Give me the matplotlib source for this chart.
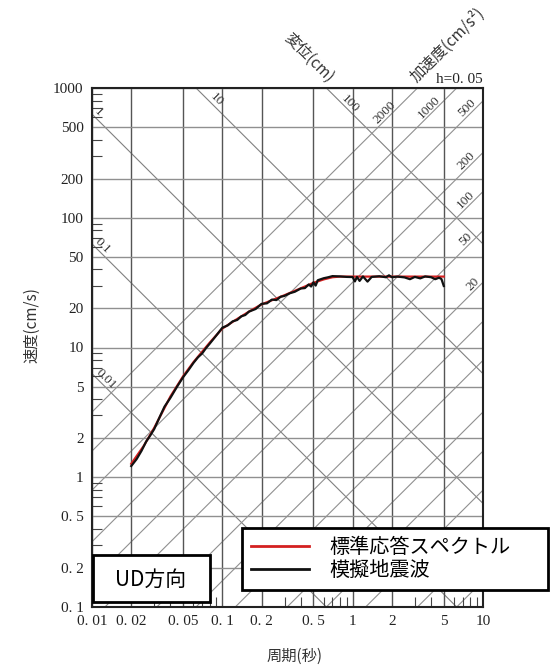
import numpy as np
import matplotlib.pyplot as plt
from matplotlib.lines import Line2D
from matplotlib.patches import Rectangle
from matplotlib.ticker import FixedLocator, NullFormatter

plt.rcParams['font.family'] = ['Noto Sans CJK JP', 'DejaVu Sans']

# 標準応答スペクトル (周期 s, 速度 cm/s)
period_std = [0.02, 0.025, 0.03, 0.04, 0.05, 0.06, 0.08, 0.1, 0.13, 0.16, 0.2, 0.25,
              0.3, 0.4, 0.5, 0.6, 0.7, 0.8, 1.0, 1.5, 2.0, 3.0, 4.0, 5.0]
sv_std = [1.27, 1.75, 2.4, 4.2, 6.0, 7.7, 10.9, 14.0, 16.6, 18.9, 21.5, 23.5,
          25.3, 28.6, 31.5, 33.5, 34.8, 35.2, 35.2, 35.2, 35.2, 35.2, 35.2, 35.2]

# 模擬地震波
period_sim = [0.02, 0.022, 0.024, 0.026, 0.028, 0.03, 0.033, 0.036, 0.04, 0.045,
              0.05, 0.055, 0.06, 0.065, 0.07, 0.075, 0.08, 0.09, 0.1, 0.11,
              0.12, 0.13, 0.14, 0.15, 0.16, 0.18, 0.2, 0.22, 0.24, 0.26,
              0.28, 0.3, 0.33, 0.36, 0.4, 0.43, 0.46, 0.48, 0.5, 0.52,
              0.54, 0.6, 0.65, 0.7, 0.8, 0.9, 1.0, 1.04, 1.08, 1.13,
              1.2, 1.3, 1.4, 1.6, 1.8, 1.9, 2.0, 2.2, 2.5, 2.75,
              3.0, 3.3, 3.6, 4.0, 4.3, 4.6, 4.8, 5.0]
sv_sim = [1.22, 1.38, 1.6, 1.88, 2.1, 2.35, 2.9, 3.5, 4.1, 5.0,
          5.9, 6.7, 7.6, 8.4, 9.0, 9.9, 10.7, 12.4, 14.2, 14.8,
          15.9, 16.3, 17.4, 17.8, 18.9, 19.8, 21.7, 21.9, 23.4, 23.2,
          24.6, 25.0, 26.2, 26.9, 28.5, 28.7, 30.6, 29.5, 31.8, 30.0,
          33.0, 34.2, 34.8, 35.5, 35.3, 35.0, 34.9, 32.3, 35.0, 32.6,
          35.3, 32.2, 35.0, 35.4, 34.8, 36.0, 34.8, 35.2, 34.7, 33.6,
          35.0, 34.1, 35.3, 34.8, 33.6, 34.5, 33.7, 29.8]

x_ticks = [0.01, 0.02, 0.05, 0.1, 0.2, 0.5, 1, 2, 5, 10]
x_labels = ['0. 01', '0. 02', '0. 05', '0. 1', '0. 2', '0. 5', '1', '2', '5', '10']
y_ticks = [0.1, 0.2, 0.5, 1, 2, 5, 10, 20, 50, 100, 200, 500, 1000]
y_labels = ['0. 1', '0. 2', '0. 5', '1', '2', '5', '10', '20', '50', '100', '200', '500', '1000']

disp_values = [0.01, 0.1, 1, 10, 100]          # 変位 (cm)
disp_names = ['0.01', '0.1', '1', '10', '100']
acc_values = [0.1, 0.2, 0.5, 1, 2, 5, 10, 20, 50, 100, 200, 500, 1000, 2000]  # 加速度
acc_named = [20, 50, 100, 200, 500, 1000, 2000]

# where the diagonal labels sit (period)
disp_label_T = [0.0119, 0.0112, 0.0104, 0.0834, 0.89]
acc_label_T = [9.0, 7.96, 7.96, 7.96, 8.2, 4.14, 1.9]

serif = 'Liberation Serif'

fig = plt.figure(figsize=(5.57, 6.7), dpi=100)
ax = fig.add_axes([92 / 557, 63 / 670, 391 / 557, 519 / 670])
ax.set_xscale('log')
ax.set_yscale('log')
ax.set_xlim(0.01, 10)
ax.set_ylim(0.1, 1000)

# 三軸の斜線
tt = np.array([0.01, 10.0])
for d in disp_values:
    ax.plot(tt, 2 * np.pi * d / tt, color='#808080', lw=0.8, zorder=1)
for a in acc_values:
    ax.plot(tt, a * tt / (2 * np.pi), color='#909090', lw=0.8, zorder=1)

for d, name, t in zip(disp_values, disp_names, disp_label_T):
    ax.annotate(name, (t, 2 * np.pi * d / t), xytext=(3, 3), textcoords='offset points',
                rotation=-45, rotation_mode='anchor', ha='center', va='center',
                fontsize=9.5, family=serif, color='#333333')
for a, t in zip(acc_named, acc_label_T):
    ax.annotate(str(a), (t, a * t / (2 * np.pi)), xytext=(-3, 3), textcoords='offset points',
                rotation=45, rotation_mode='anchor', ha='center', va='center',
                fontsize=9.5, family=serif, color='#333333')

ax.plot(period_std, sv_std, color='#d42020', lw=1.6, zorder=3)
ax.plot(period_sim, sv_sim, color='#111111', lw=1.6, zorder=4)

ax.xaxis.set_major_locator(FixedLocator(x_ticks))
ax.yaxis.set_major_locator(FixedLocator(y_ticks))
ax.set_xticklabels(x_labels, family=serif, fontsize=11)
ax.set_yticklabels(y_labels, family=serif, fontsize=11)
xminor = [m * 10.0 ** e for e in range(-2, 1) for m in (3, 4, 6, 7, 8, 9)]
yminor = [m * 10.0 ** e for e in range(-1, 3) for m in (3, 4, 6, 7, 8, 9)]
ax.xaxis.set_minor_locator(FixedLocator(xminor))
ax.yaxis.set_minor_locator(FixedLocator(yminor))
ax.xaxis.set_minor_formatter(NullFormatter())
ax.yaxis.set_minor_formatter(NullFormatter())
ax.tick_params(which='major', length=0, pad=6, colors='#222222')
ax.tick_params(which='minor', direction='in', length=7, width=0.8, color='#444444',
               left=True, bottom=True, right=False, top=False)
ax.grid(axis='x', which='major', color='#555555', lw=1.0, zorder=2)
ax.grid(axis='y', which='major', color='#909090', lw=1.0, zorder=2)
for s in ax.spines.values():
    s.set_linewidth(1.5)
    s.set_color('#222222')

ax.set_ylabel('速度(cm/s)', fontsize=11, color='#333333')
ax.yaxis.set_label_coords(-0.133, 0.543)
ax.set_xlabel('周期(秒)', fontsize=11, color='#333333')
ax.xaxis.set_label_coords(0.517, -0.078)

ax.text(1.0, 1.004, 'h=0. 05', transform=ax.transAxes, ha='right', va='bottom',
        family=serif, fontsize=11, color='#222222')
fig.text(309 / 557, 1 - 58 / 670, '変位(cm)', rotation=-45, ha='center', va='center',
         fontsize=11, color='#333333')
fig.text(448 / 557, 1 - 45 / 670, '加速度(cm/s²)', rotation=45, ha='center', va='center',
         fontsize=11, color='#333333')

handles = [Line2D([], [], color='#d42020', lw=2), Line2D([], [], color='#111111', lw=2)]
leg = ax.legend(handles, ['標準応答スペクトル', '模擬地震波'], loc='lower left',
                bbox_to_anchor=(242 / 557, 1 - 590 / 670, 306 / 557, 63 / 670),
                bbox_transform=fig.transFigure, mode='expand', borderaxespad=0,
                fancybox=False, edgecolor='black', framealpha=1, fontsize=14.5,
                handlelength=2.9, handletextpad=1.0, labelspacing=0.1, borderpad=0.45)
leg.get_frame().set_linewidth(2)
leg.set_zorder(10)

fig.add_artist(Rectangle((93 / 557, 68 / 670), 117 / 557, 47 / 670, transform=fig.transFigure,
                         facecolor='white', edgecolor='black', lw=2, zorder=5))
fig.text(151 / 557, 1 - 580 / 670, 'UD方向', ha='center', va='center', fontsize=15, zorder=6)

fig.savefig('out.png', dpi=100)
